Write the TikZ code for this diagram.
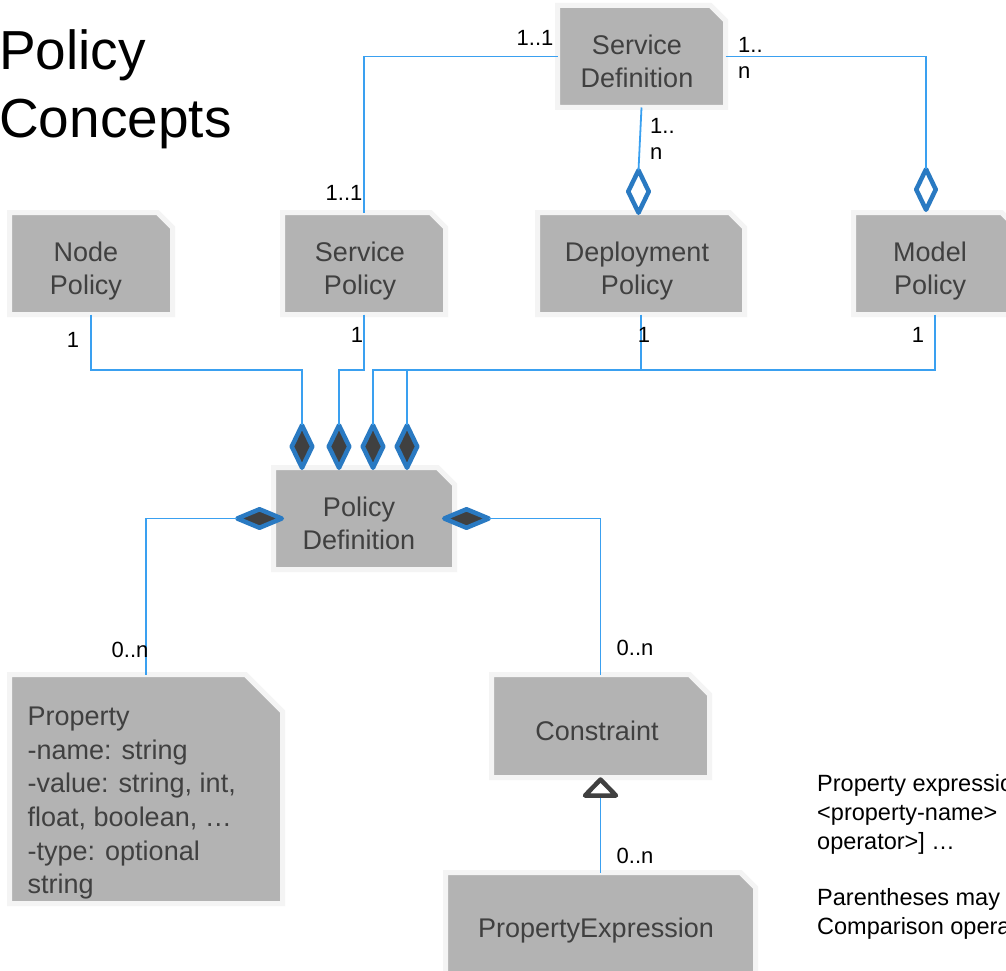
\documentclass[tikz,border=0pt]{standalone}
\usepackage{fontspec}
\setmainfont{Liberation Sans}
\usetikzlibrary{shapes.geometric}

\definecolor{boxgray}{HTML}{B3B3B3}
\definecolor{halo}{HTML}{F4F4F4}
\definecolor{boxtext}{HTML}{404040}
\definecolor{wire}{HTML}{3AA0F0}
\definecolor{rim}{HTML}{2A7AC2}
\definecolor{ink}{HTML}{404040}

\tikzset{
  boxframe/.style={rectangle, draw=none, inner sep=0pt, outer sep=0pt},
  boxfill/.style={fill=boxgray, draw=halo, line width=5pt, line join=miter},
  boxlabel/.style={text=boxtext, font=\fontsize{27}{33.6}\selectfont, align=center, inner sep=0pt},
  mult/.style={text=black, font=\fontsize{22}{26}\selectfont, inner sep=0pt},
  note/.style={text=black, font=\fontsize{23.5}{29}\selectfont, align=left, anchor=north west, inner sep=0pt},
  heading/.style={text=black, font=\fontsize{55}{66}\selectfont, anchor=base west, inner sep=0pt},
  conn/.style={draw=wire, line width=1.8pt},
  comp/.style={diamond, draw=rim, fill=ink, line width=4.5pt, line join=round, inner sep=0pt, outer sep=0pt},
  aggr/.style={comp, fill=white},
  gentri/.style={draw=ink, fill=white, line width=4.5pt, line join=round},
}

% class box with a cut top-right corner: name, centre x, centre y, width, height, corner cut
\newcommand\umlbox[6]{%
  \node[boxframe, minimum width=#4pt+5pt, minimum height=#5pt+5pt] (#1) at (#2,#3) {};
  \filldraw[boxfill] (#1.south west) -- (#1.north west) -- ([xshift=-#6pt]#1.north east)
    -- ([yshift=-#6pt]#1.north east) -- (#1.south east) -- cycle;
}

\begin{document}
\begin{tikzpicture}[x=1pt,y=-1pt]
\fill[white] (0,0) rectangle (1006,971);
\useasboundingbox (0,0) rectangle (1006,971);

% title
\node[heading] (title1) at (-1,70) {Policy};
\node[heading] (title2) at (-1,137) {Concepts};

% boxes
\umlbox{sd}{641.5}{56.5}{163}{97}{15}
\umlbox{np}{91}{263.5}{158}{97}{15}
\umlbox{sp}{364}{263.5}{158}{97}{15}
\umlbox{dp}{641}{263.5}{202}{97}{15}
\umlbox{mp}{935}{263.5}{158}{97}{15}
\umlbox{pd}{364}{518.5}{176}{97}{17}
\umlbox{prop}{146}{789}{268}{224}{37}
\umlbox{con}{600.5}{726}{213}{98}{20}
\umlbox{pe}{600.5}{923.5}{305}{97}{15}

\node[boxlabel] (sd-t) at (637,61.5) {Service\\Definition};
\node[boxlabel] (np-t) at (86,271) {Node\\Policy};
\node[boxlabel] (sp-t) at (360,271) {Service\\Policy};
\node[boxlabel] (dp-t) at (637,271) {Deployment\\Policy};
\node[boxlabel] (mp-t) at (930,271) {Model\\Policy};
\node[boxlabel] (pd-t) at (359,523.5) {Policy\\Definition};
\node[boxlabel, align=left, anchor=north west] (prop-t) at (27.5,707)
  {Property\\-name: string\\-value: string, int,\\float, boolean, …\\-type: optional\\string};
\node[boxlabel] (con-t) at (597,731) {Constraint};
\node[boxlabel] (pe-t) at (596,931) {PropertyExpression};

% diamond ends
\node[comp, minimum width=20.5pt, minimum height=42.5pt] (c1) at (302,446.5) {};
\node[comp, minimum width=20.5pt, minimum height=42.5pt] (c2) at (339,446.5) {};
\node[comp, minimum width=20.5pt, minimum height=42.5pt] (c3) at (373,446.5) {};
\node[comp, minimum width=20.5pt, minimum height=42.5pt] (c4) at (407,446.5) {};
\node[comp, minimum width=44.5pt, minimum height=18.5pt] (cl) at (259.5,518.5) {};
\node[comp, minimum width=44.5pt, minimum height=18.5pt] (cr) at (466.5,518.5) {};
\node[aggr, minimum width=19.5pt, minimum height=40.5pt] (am) at (926,189.5) {};
\node[aggr, minimum width=20.5pt, minimum height=42.5pt] (ad) at (638.5,191.5) {};

% connectors
\coordinate (bus) at (0,370);
\draw[conn] (sd.west) -| (sp.north);
\draw[conn] (sd.east) -| (am.north);
\draw[conn] (sd.south) -- (ad.north);
\draw[conn] (np.south) |- (bus -| c1.north) -- (c1.north);
\draw[conn] (sp.south) |- (bus -| c2.north) -- (c2.north);
\draw[conn] (dp.south) |- (bus -| c3.north) -- (c3.north);
\draw[conn] (mp.south) |- (bus -| c4.north) -- (c4.north);
\draw[conn] (cl.west) -| (prop.north);
\draw[conn] (cr.east) -| (con.north);

% generalisation: open triangle under Constraint
\coordinate (trib) at ([yshift=-18pt]con.south);
\draw[conn] (pe.north) -- (trib);
\draw[gentri] ([yshift=-2pt]con.south) -- ([xshift=15.5pt]trib) -- ([xshift=-15.5pt]trib) -- cycle;

% multiplicities
\node[mult] (m1) at (535,38) {1..1};
\node[mult] (m2) at (344,193) {1..1};
\node[mult, align=left, anchor=north west] (m3) at (738,37) {1..\\n};
\node[mult, align=left, anchor=north west] (m4) at (650,118) {1..\\n};
\node[mult] (m5) at (73,340) {1};
\node[mult] (m6) at (357,335) {1};
\node[mult] (m7) at (644,335) {1};
\node[mult] (m8) at (918,335) {1};
\node[mult] (m9) at (130,650) {0..n};
\node[mult] (m10) at (635,648) {0..n};
\node[mult] (m11) at (635,856) {0..n};

% notes
\node[note] (n1) at (817,774) {Property expressio\\<property-name>\\operator>] …};
\node[note] (n2) at (817,888) {Parentheses may\\Comparison opera};
\end{tikzpicture}
\end{document}
